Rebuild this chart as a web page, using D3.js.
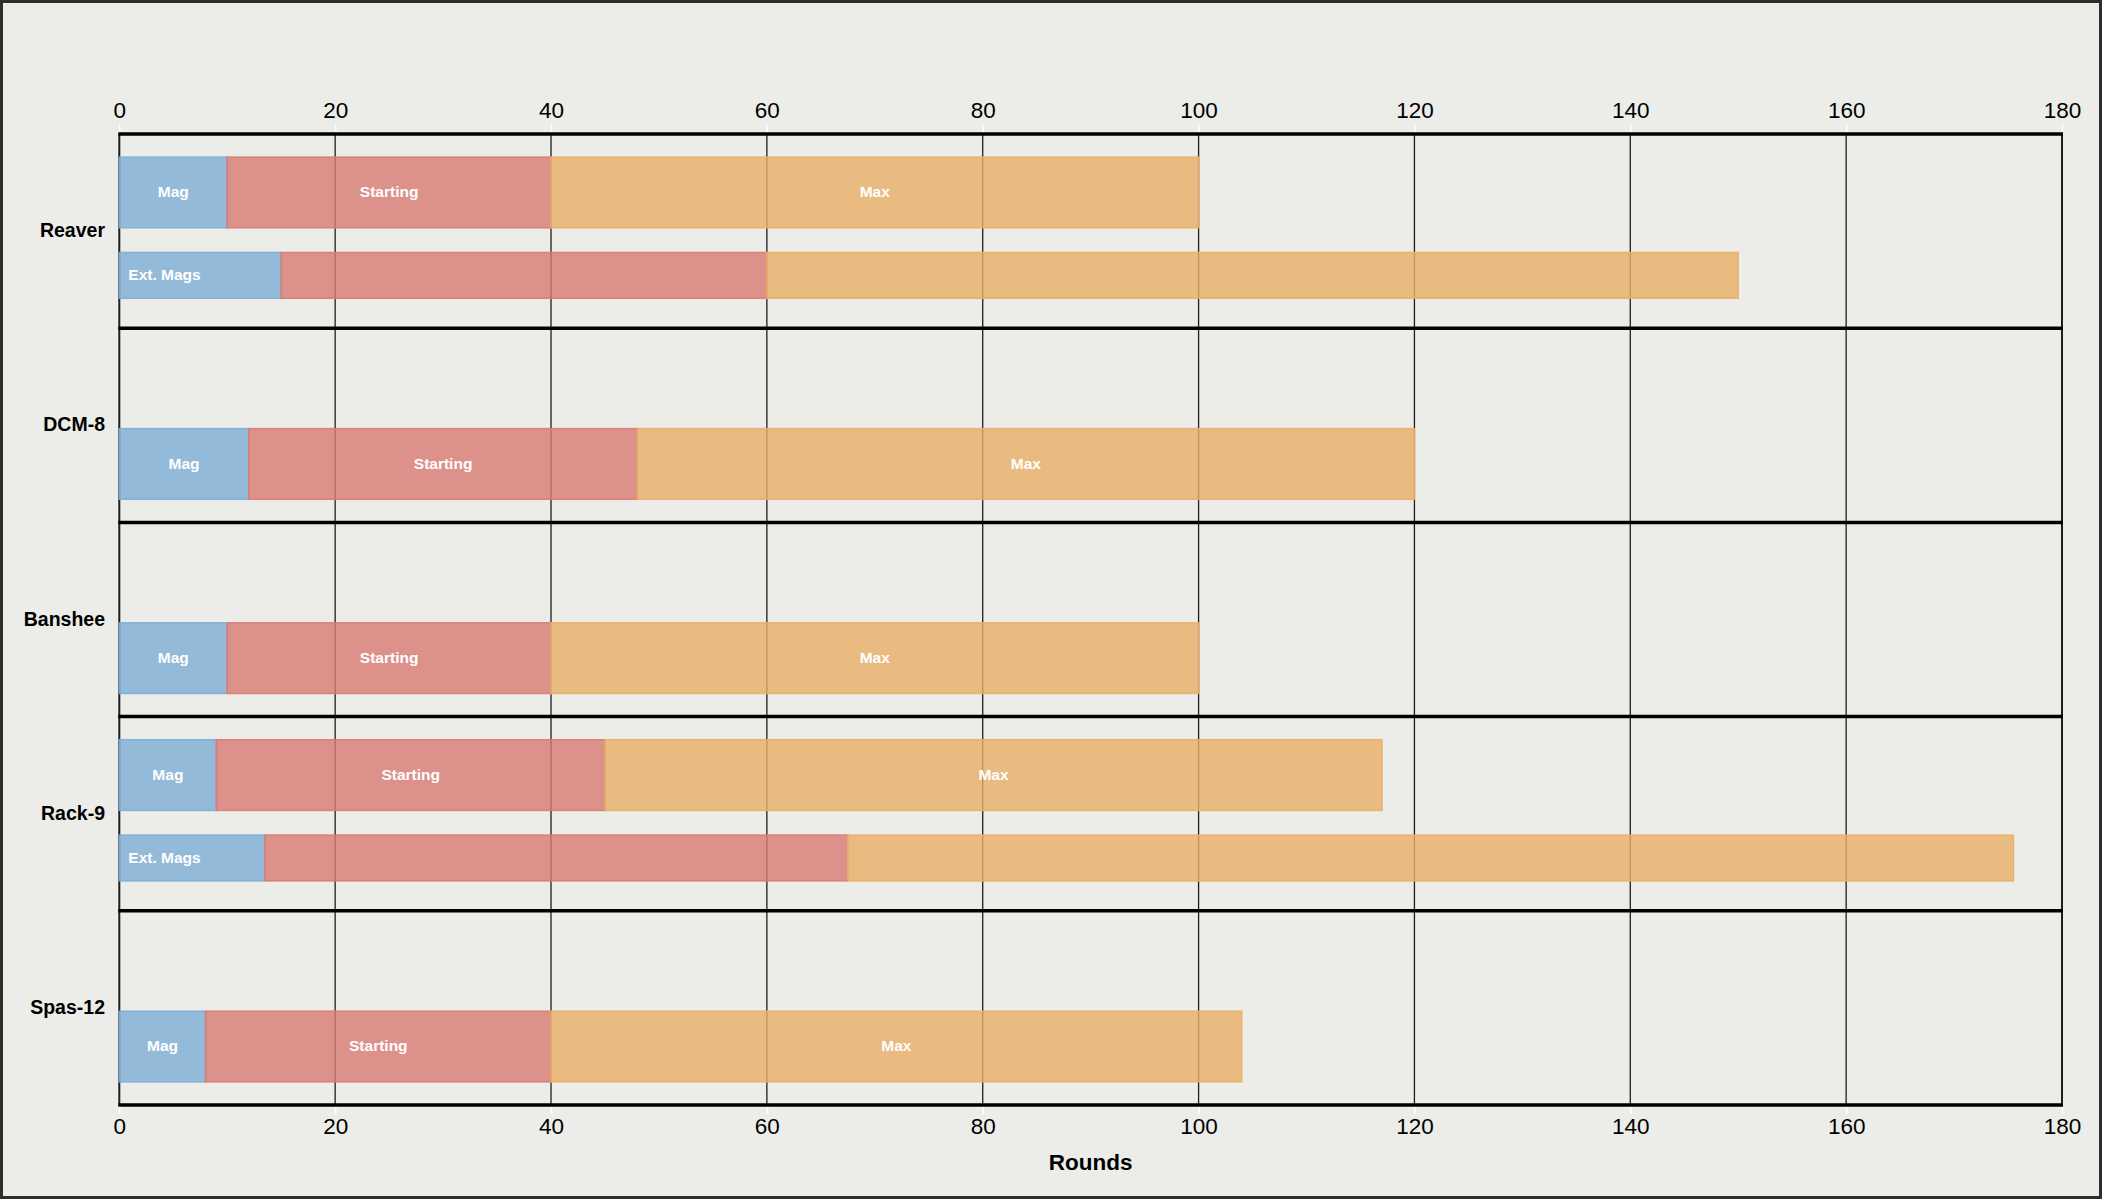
<!DOCTYPE html>
<html>
<head>
<meta charset="utf-8">
<script src="https://cdn.jsdelivr.net/npm/d3@7"></script>
<style>
  body { margin: 0; background: #ecece8; }
  svg { display: block; font-family: "Liberation Sans", Arial, sans-serif; }
</style>
</head>
<body>
<div id="chart"></div>
<script>
// Data
const weapons = ["Reaver", "DCM-8", "Banshee", "Rack-9", "Spas-12"];
const rowWeapon = ["Reaver", "Reaver", "DCM-8", "Banshee", "Rack-9", "Rack-9", "Spas-12"];
const rowKind = ["Mag", "Ext. Mags", "Mag", "Mag", "Mag", "Ext. Mags", "Mag"];
const magRounds = [10, 15, 12, 10, 9, 13.5, 8];
const startingRounds = [40, 60, 48, 40, 45, 67.5, 40];
const maxRounds = [100, 150, 120, 100, 117, 175.5, 104];
const xTicks = [0, 20, 40, 60, 80, 100, 120, 140, 160, 180];
const xTitle = "Rounds";

function drawChart() {
  const width = 2102;
  const height = 1199;
  const left = 119.3, right = 2062, top = 134, bottom = 1105;

  const colors = { mag: "#7daed5", start: "#d97a73", max: "#eaaf66" };

  const x = d3.scaleLinear().domain([0, 180]).range([left, right]);
  const y = d3.scaleBand().domain(weapons).range([top, bottom]);

  // rows per weapon decide where a bar sits inside its band
  const counts = d3.rollup(rowWeapon, (v) => v.length, (d) => d);
  function rowBox(i) {
    const bw = y.bandwidth();
    const y0 = y(rowWeapon[i]);
    if (counts.get(rowWeapon[i]) === 1) return [y0 + bw * 0.517, bw * 0.364];
    if (rowKind[i] === "Mag") return [y0 + bw * 0.119, bw * 0.364];
    return [y0 + bw * 0.61, bw * 0.236];
  }

  const rows = rowWeapon.map((w, i) => ({
    weapon: w,
    kind: rowKind[i],
    mag: magRounds[i],
    start: startingRounds[i],
    max: maxRounds[i],
    box: rowBox(i),
  }));

  const svg = d3.select("#chart")
    .append("svg")
    .attr("width", width)
    .attr("height", height);

  svg.append("rect")
    .attr("x", 1.5).attr("y", 1.5)
    .attr("width", width - 3).attr("height", height - 3)
    .attr("fill", "#ecece8")
    .attr("stroke", "#2e2e2e")
    .attr("stroke-width", 3);

  // vertical grid
  svg.append("g")
    .selectAll("line")
    .data(xTicks)
    .enter()
    .append("line")
    .attr("x1", (d) => x(d)).attr("x2", (d) => x(d))
    .attr("y1", top).attr("y2", bottom)
    .attr("stroke", "#1e1e1e")
    .attr("stroke-width", (d) => (d === 0 || d === 180 ? 2 : 1.3));

  // bars: mag, starting, max segments
  const segs = [];
  rows.forEach((r) => {
    segs.push({ r, x0: 0, x1: r.mag, c: colors.mag, label: r.kind === "Mag" ? "Mag" : "Ext. Mags", anchor: r.kind === "Mag" ? "middle" : "start" });
    segs.push({ r, x0: r.mag, x1: r.start, c: colors.start, label: r.kind === "Mag" ? "Starting" : null, anchor: "middle" });
    segs.push({ r, x0: r.start, x1: r.max, c: colors.max, label: r.kind === "Mag" ? "Max" : null, anchor: "middle" });
  });

  const bars = svg.append("g");
  bars.selectAll("rect")
    .data(segs)
    .enter()
    .append("rect")
    .attr("x", (d) => x(d.x0))
    .attr("width", (d) => x(d.x1) - x(d.x0))
    .attr("y", (d) => d.r.box[0])
    .attr("height", (d) => d.r.box[1])
    .attr("fill", (d) => d.c)
    .attr("fill-opacity", 0.8)
    .attr("stroke", (d) => d.c)
    .attr("stroke-opacity", 0.9)
    .attr("stroke-width", 1.5);

  bars.selectAll("text")
    .data(segs.filter((d) => d.label))
    .enter()
    .append("text")
    .text((d) => d.label)
    .attr("x", (d) => (d.anchor === "start" ? x(d.x0) + 9 : (x(d.x0) + x(d.x1)) / 2))
    .attr("y", (d) => d.r.box[0] + d.r.box[1] / 2)
    .attr("dy", "0.3em")
    .attr("text-anchor", (d) => d.anchor)
    .attr("fill", "#ffffff")
    .style("font-size", "15.5px")
    .style("font-weight", "bold");

  // thick separators between weapons
  const seps = weapons.map((w) => y(w)).concat([bottom]);
  svg.append("g")
    .selectAll("line")
    .data(seps)
    .enter()
    .append("line")
    .attr("x1", left - 1).attr("x2", right + 1)
    .attr("y1", (d) => d).attr("y2", (d) => d)
    .attr("stroke", "#000")
    .attr("stroke-width", 3.5);

  // weapon labels
  svg.append("g")
    .selectAll("text")
    .data(weapons)
    .enter()
    .append("text")
    .text((d) => d)
    .attr("x", 105)
    .attr("y", (d) => y(d) + y.bandwidth() / 2 + 6)
    .attr("text-anchor", "end")
    .style("font-size", "19.5px")
    .style("font-weight", "bold")
    .attr("fill", "#000");

  // axes top and bottom
  const topAxis = svg.append("g")
    .attr("transform", `translate(0,${top - 2})`)
    .call(d3.axisTop(x).tickValues(xTicks).tickSize(7).tickPadding(7));
  const bottomAxis = svg.append("g")
    .attr("transform", `translate(0,${bottom + 2})`)
    .call(d3.axisBottom(x).tickValues(xTicks).tickSize(7).tickPadding(4));

  [topAxis, bottomAxis].forEach((a) => {
    a.select(".domain").remove();
    a.selectAll(".tick line").attr("stroke", "#ffffff").attr("stroke-width", 1.5);
    a.selectAll(".tick text")
      .attr("fill", "#000")
      .style("font-size", "22.5px")
      .style("font-family", "'Liberation Sans', Arial, sans-serif");
  });

  svg.append("text")
    .text(xTitle)
    .attr("x", (left + right) / 2)
    .attr("y", 1170)
    .attr("text-anchor", "middle")
    .style("font-size", "22.5px")
    .style("font-weight", "bold")
    .attr("fill", "#000");
}

window.onload = function () {
  drawChart();
};
</script>
</body>
</html>
